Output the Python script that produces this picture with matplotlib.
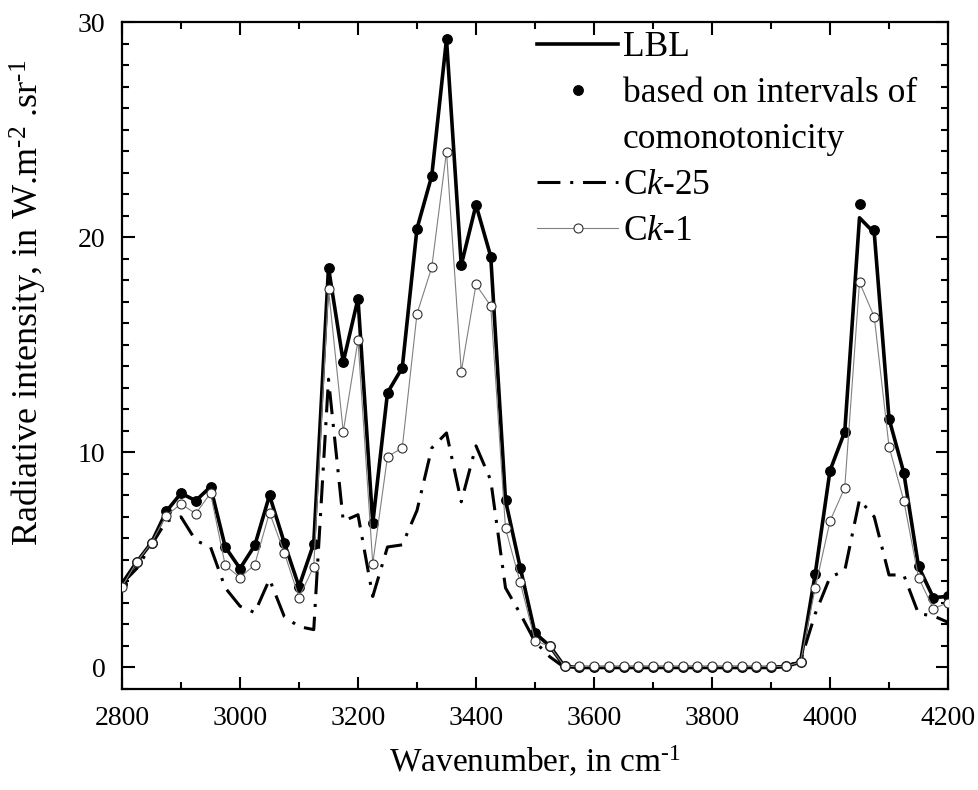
import matplotlib
matplotlib.use("Agg")
import matplotlib.pyplot as plt
import numpy as np
from matplotlib.ticker import MultipleLocator
from matplotlib.lines import Line2D

plt.rcParams['font.family'] = ['Liberation Serif', 'DejaVu Serif']
plt.rcParams['mathtext.fontset'] = 'custom'
plt.rcParams['mathtext.rm'] = 'Liberation Serif'
plt.rcParams['mathtext.it'] = 'Liberation Serif:italic'

wavenumber = np.arange(2800, 4201, 25)

lbl = [3.9, 4.9, 5.8, 7.25, 8.1, 7.75, 8.4, 5.6, 4.6, 5.67, 8.0, 5.8, 3.76, 5.76,
       18.58, 14.2, 17.14, 6.7, 12.77, 13.93, 20.4, 22.85, 29.2, 18.7, 21.5, 19.1,
       7.77, 4.64, 1.6, 1.0, 0.05,
       0.0, 0.0, 0.0, 0.0, 0.0, 0.0, 0.0, 0.0, 0.0, 0.0, 0.0, 0.0, 0.0, 0.0, 0.05, 0.25,
       4.36, 9.15, 10.96, 20.9, 20.2, 11.57, 9.06, 4.7, 3.25, 3.3]

comono = [3.9, 4.9, 5.8, 7.25, 8.1, 7.75, 8.4, 5.6, 4.6, 5.67, 8.0, 5.8, 3.76, 5.76,
          18.58, 14.2, 17.14, 6.7, 12.77, 13.93, 20.4, 22.85, 29.2, 18.7, 21.5, 19.1,
          7.77, 4.64, 1.6, 1.0, 0.05,
          0.0, 0.0, 0.0, 0.0, 0.0, 0.0, 0.0, 0.0, 0.0, 0.0, 0.0, 0.0, 0.0, 0.0, 0.05, 0.25,
          4.36, 9.15, 10.96, 21.55, 20.35, 11.57, 9.06, 4.7, 3.25, 3.3]

ck25 = [3.9, 4.6, 5.7, 6.8, 7.0, 5.9, 5.6, 3.7, 2.85, 2.55, 4.1, 2.37, 1.9, 1.76,
        13.4, 6.8, 7.1, 3.3, 5.6, 5.7, 7.3, 10.2, 10.9, 7.7, 10.3, 8.7,
        3.7, 2.5, 1.2, 0.5, 0.0,
        0.0, 0.0, 0.0, 0.0, 0.0, 0.0, 0.0, 0.0, 0.0, 0.0, 0.0, 0.0, 0.0, 0.0, 0.05, 0.3,
        2.5, 4.2, 4.5, 7.8, 7.0, 4.3, 4.3, 2.5, 2.4, 2.1]

ck1 = [3.76, 4.9, 5.8, 7.06, 7.6, 7.15, 8.1, 4.74, 4.18, 4.78, 7.2, 5.34, 3.25, 4.69,
       17.6, 10.96, 15.2, 4.83, 9.8, 10.2, 16.44, 18.6, 23.97, 13.75, 17.8, 16.8,
       6.46, 3.95, 1.25, 0.98, 0.05,
       0.05, 0.05, 0.05, 0.05, 0.05, 0.05, 0.05, 0.05, 0.05, 0.05, 0.05, 0.05, 0.05, 0.05, 0.05, 0.25,
       3.7, 6.8, 8.36, 17.9, 16.3, 10.27, 7.76, 4.18, 2.74, 3.0]

fig = plt.figure(figsize=(9.79, 7.9), dpi=100)
ax = fig.add_axes([122/979, 1-689/790, (948-122)/979, (689-22)/790])

ck25_style = (0, (7.5, 3.2, 1.0, 3.2))
h_ck25, = ax.plot(wavenumber, ck25, color='black', lw=2.2, ls=ck25_style, zorder=3)
h_lbl, = ax.plot(wavenumber, lbl, color='black', lw=2.6, zorder=4)
h_dot, = ax.plot(wavenumber, comono, ls='none', marker='o', ms=6.8, color='black', zorder=5)
h_ck1, = ax.plot(wavenumber, ck1, color='#808080', lw=0.8, marker='o', ms=6.5,
                 mfc='white', mec='#303030', mew=0.8, zorder=6)

ax.set_xlim(2800, 4200)
ax.set_ylim(-1, 30)
ax.xaxis.set_major_locator(MultipleLocator(200))
ax.xaxis.set_minor_locator(MultipleLocator(100))
ax.yaxis.set_major_locator(MultipleLocator(10))
ax.yaxis.set_minor_locator(MultipleLocator(1))
ax.tick_params(which='both', direction='in', top=True, right=True, width=1.5,
               labelsize=20)
ax.tick_params(which='major', length=9)
ax.tick_params(which='minor', length=5)
ax.tick_params(axis='x', pad=12)
ax.tick_params(axis='y', pad=12)
for s in ax.spines.values():
    s.set_linewidth(1.6)

hy = '\u2010'
ax.set_xlabel('Wavenumber, in cm$^{' + hy + '1}$', fontsize=24, labelpad=10)
fig.text(28/979, 1-303/790,
         'Radiative intensity, in W.m$^{' + hy + '2}$ .sr$^{' + hy + '1}$',
         rotation=90, ha='center', va='center', fontsize=26)

blank = Line2D([], [], ls='none', marker=None)
h_leg_ck1 = Line2D([], [], color='#808080', lw=0.8, marker='o', ms=6.5,
                   mfc='white', mec='#303030', mew=0.8)
leg = ax.legend([h_lbl, h_dot, blank, h_ck25, h_leg_ck1],
                ['LBL', 'based on intervals of', 'comonotonicity', 'C$k$-25', 'C$k$-1'],
                loc='upper left', bbox_to_anchor=(0.5024, 0.9865), frameon=False,
                fontsize=25.5, handlelength=2.29, handletextpad=0.14,
                labelspacing=0.37, borderaxespad=0.0, borderpad=0.0)

fig.savefig('out.png', dpi=100)
